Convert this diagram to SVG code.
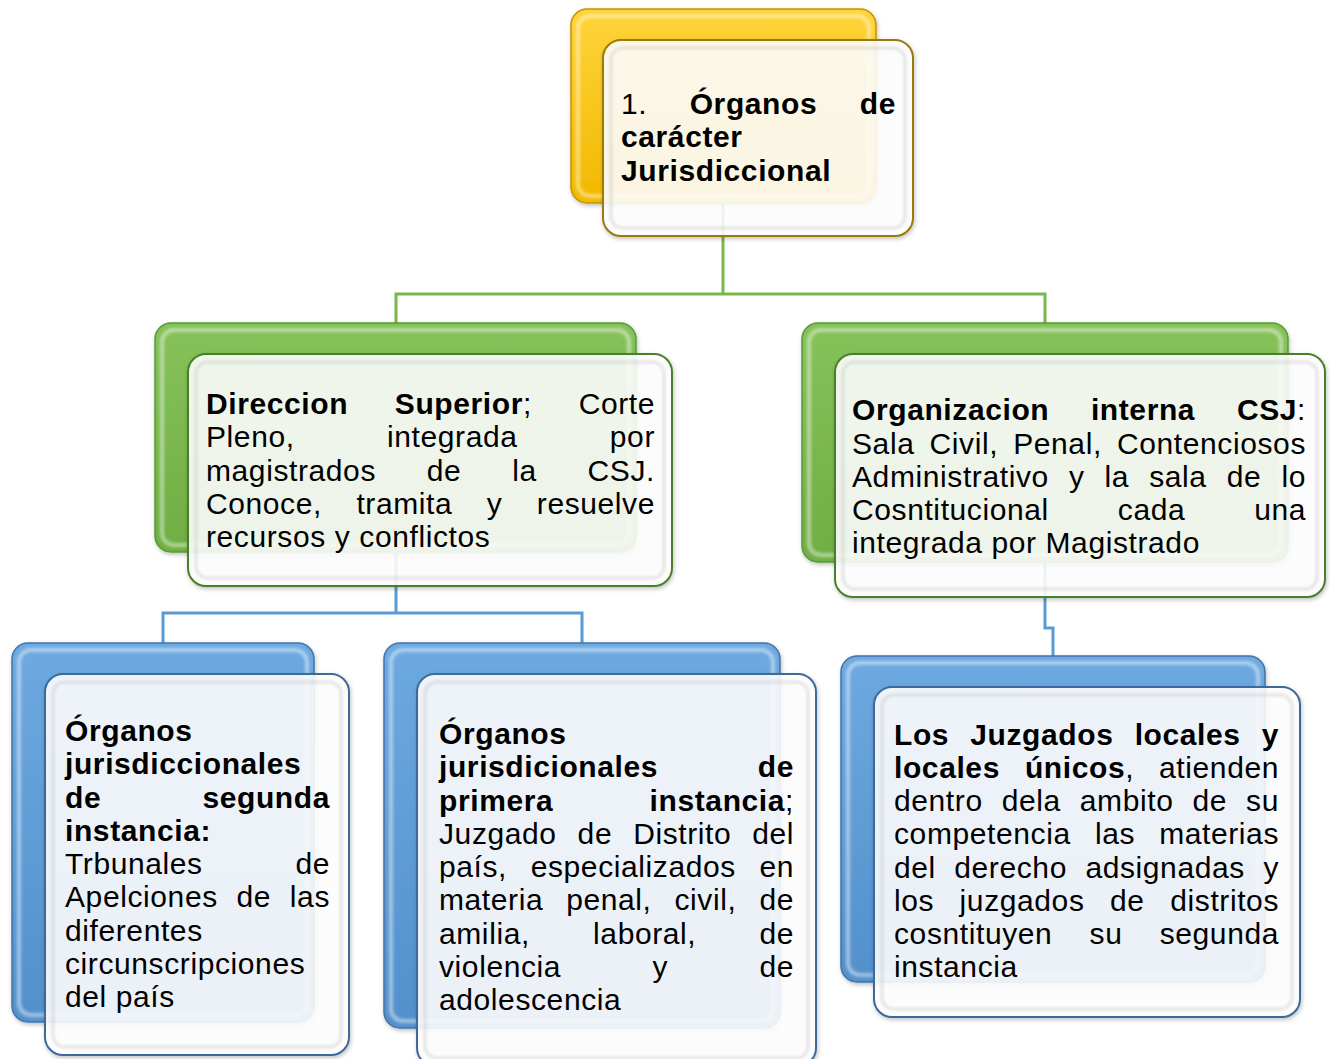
<svg xmlns="http://www.w3.org/2000/svg" width="1330" height="1059" viewBox="0 0 1330 1059">
<defs>
<style>
.t{font-family:"Liberation Sans",Arial,sans-serif;font-size:30px;fill:#000;letter-spacing:0.6px}
.b{font-weight:bold}
.e{text-anchor:end}
.conG{fill:none;stroke:#7ab648;stroke-width:3}
.conB{fill:none;stroke:#5b9bd5;stroke-width:3}
.hl{fill:none;stroke:#fff;stroke-opacity:0.45;stroke-width:4;filter:url(#soft)}
.front{fill:#fff;fill-opacity:0.87;stroke-width:2}
.inner{fill:none;stroke:#c8c8c8;stroke-opacity:0.7;stroke-width:2;filter:url(#soft)}
.backG{fill:url(#gG);stroke:#5a9a35;stroke-width:1.5}
.backB{fill:url(#gB);stroke:#4274aa;stroke-width:1.5}
.backY{fill:url(#gY);stroke:#c49400;stroke-width:1.5}
.fG{stroke:#4a7f2c}
.fB{stroke:#3c6a98}
.fY{stroke:#9a7a08}
</style>
<filter id="soft" x="-5%" y="-5%" width="110%" height="110%"><feGaussianBlur stdDeviation="1.5"/></filter>
<filter id="shd" x="-5%" y="-5%" width="115%" height="115%"><feDropShadow dx="1" dy="2" stdDeviation="2" flood-color="#000" flood-opacity="0.25"/></filter>
<linearGradient id="gG" x1="0" y1="0" x2="0" y2="1"><stop offset="0" stop-color="#86c25a"/><stop offset="1" stop-color="#6fae43"/></linearGradient>
<linearGradient id="gB" x1="0" y1="0" x2="0" y2="1"><stop offset="0" stop-color="#6ea9e0"/><stop offset="1" stop-color="#5290cc"/></linearGradient>
<linearGradient id="gY" x1="0" y1="0" x2="0" y2="1"><stop offset="0" stop-color="#ffd43a"/><stop offset="1" stop-color="#f2b800"/></linearGradient>
</defs>
<rect width="1330" height="1059" fill="#fff"/>

<g id="connectors">
<path class="conG" d="M723 203 V294 M396 323 V294 H1045 V323"/>
<path class="conB" d="M396 552 V613 M163 643 V613 H582 V643"/>
<path class="conB" d="M1045 562 V628 H1053 V656"/>
</g>

<g id="node-top">
<rect class="backY" x="571" y="9" width="305" height="194" rx="16" filter="url(#shd)"/>
<rect class="hl" x="578" y="16" width="291" height="180" rx="12"/>
<rect class="front fY" x="603" y="40" width="310" height="196" rx="18" filter="url(#shd)"/>
<rect class="inner" x="611" y="48" width="294" height="180" rx="12"/>
<text class="t" x="621" y="113.5">1.</text>
<text class="t b" x="689.7" y="113.5">Órganos</text>
<text class="t b e" x="896" y="113.5">de</text>
<text class="t b" x="621" y="147">carácter</text>
<text class="t b" x="621" y="180.5">Jurisdiccional</text>
</g>

<g id="node-direccion">
<rect class="backG" x="155" y="323" width="481" height="229" rx="16" filter="url(#shd)"/>
<rect class="hl" x="162" y="330" width="467" height="215" rx="12"/>
<rect class="front fG" x="188" y="354" width="484" height="232" rx="18" filter="url(#shd)"/>
<rect class="inner" x="196" y="362" width="468" height="216" rx="12"/>
<text class="t b" x="206" y="414">Direccion</text>
<text class="t" x="394.8" y="414"><tspan class="b">Superior</tspan>;</text>
<text class="t e" x="655" y="414">Corte</text>
<text class="t" x="206" y="447">Pleno,</text>
<text class="t" x="387" y="447">integrada</text>
<text class="t e" x="655" y="447">por</text>
<text class="t" x="206" y="480.5">magistrados</text>
<text class="t" x="426.8" y="480.5">de</text>
<text class="t" x="512.2" y="480.5">la</text>
<text class="t e" x="655" y="480.5">CSJ.</text>
<text class="t" x="206" y="513.5">Conoce,</text>
<text class="t" x="356.4" y="513.5">tramita</text>
<text class="t" x="486.8" y="513.5">y</text>
<text class="t e" x="655" y="513.5">resuelve</text>
<text class="t" x="206" y="546.5">recursos y conflictos</text>
</g>

<g id="node-organizacion">
<rect class="backG" x="802" y="323" width="486" height="239" rx="16" filter="url(#shd)"/>
<rect class="hl" x="809" y="330" width="472" height="225" rx="12"/>
<rect class="front fG" x="835" y="354" width="490" height="243" rx="18" filter="url(#shd)"/>
<rect class="inner" x="843" y="362" width="474" height="227" rx="12"/>
<text class="t b" x="852" y="420">Organizacion</text>
<text class="t b" x="1090.9" y="420">interna</text>
<text class="t e" x="1306" y="420"><tspan class="b">CSJ</tspan>:</text>
<text class="t" x="852" y="453.5">Sala</text>
<text class="t" x="929.5" y="453.5">Civil,</text>
<text class="t" x="1013.2" y="453.5">Penal,</text>
<text class="t e" x="1306" y="453.5">Contenciosos</text>
<text class="t" x="852" y="486.5">Administrativo</text>
<text class="t" x="1068.9" y="486.5">y</text>
<text class="t" x="1104.6" y="486.5">la</text>
<text class="t" x="1149.2" y="486.5">sala</text>
<text class="t" x="1226.7" y="486.5">de</text>
<text class="t e" x="1306" y="486.5">lo</text>
<text class="t" x="852" y="520">Cosntitucional</text>
<text class="t" x="1117.8" y="520">cada</text>
<text class="t e" x="1306" y="520">una</text>
<text class="t" x="852" y="553">integrada por Magistrado</text>
</g>

<g id="node-segunda">
<rect class="backB" x="12" y="643" width="302" height="379" rx="16" filter="url(#shd)"/>
<rect class="hl" x="19" y="650" width="288" height="365" rx="12"/>
<rect class="front fB" x="45" y="674" width="304" height="381" rx="18" filter="url(#shd)"/>
<rect class="inner" x="53" y="682" width="288" height="365" rx="12"/>
<text class="t b" x="65" y="741">Órganos</text>
<text class="t b" x="65" y="774">jurisdiccionales</text>
<text class="t b" x="65" y="807.5">de</text>
<text class="t b e" x="330" y="807.5">segunda</text>
<text class="t b" x="65" y="840.5">instancia:</text>
<text class="t" x="65" y="874">Trbunales</text>
<text class="t e" x="330" y="874">de</text>
<text class="t" x="65" y="907">Apelciones</text>
<text class="t" x="236.5" y="907">de</text>
<text class="t e" x="330" y="907">las</text>
<text class="t" x="65" y="940.5">diferentes</text>
<text class="t" x="65" y="973.5">circunscripciones</text>
<text class="t" x="65" y="1007">del país</text>
</g>

<g id="node-primera">
<rect class="backB" x="384" y="643" width="396" height="385" rx="16" filter="url(#shd)"/>
<rect class="hl" x="391" y="650" width="382" height="371" rx="12"/>
<rect class="front fB" x="417" y="674" width="399" height="392" rx="18" filter="url(#shd)"/>
<rect class="inner" x="425" y="682" width="383" height="376" rx="12"/>
<text class="t b" x="439" y="744">Órganos</text>
<text class="t b" x="439" y="777">jurisdicionales</text>
<text class="t b e" x="794" y="777">de</text>
<text class="t b" x="439" y="810.5">primera</text>
<text class="t e" x="794" y="810.5"><tspan class="b">instancia</tspan>;</text>
<text class="t" x="439" y="843.5">Juzgado</text>
<text class="t" x="577.6" y="843.5">de</text>
<text class="t" x="633.2" y="843.5">Distrito</text>
<text class="t e" x="794" y="843.5">del</text>
<text class="t" x="439" y="877">país,</text>
<text class="t" x="530.7" y="877">especializados</text>
<text class="t e" x="794" y="877">en</text>
<text class="t" x="439" y="910">materia</text>
<text class="t" x="566.2" y="910">penal,</text>
<text class="t" x="674.5" y="910">civil,</text>
<text class="t e" x="794" y="910">de</text>
<text class="t" x="439" y="943.5">amilia,</text>
<text class="t" x="593.1" y="943.5">laboral,</text>
<text class="t e" x="794" y="943.5">de</text>
<text class="t" x="439" y="976.5">violencia</text>
<text class="t" x="652.5" y="976.5">y</text>
<text class="t e" x="794" y="976.5">de</text>
<text class="t" x="439" y="1010">adolescencia</text>
</g>

<g id="node-locales">
<rect class="backB" x="841" y="656" width="424" height="326" rx="16" filter="url(#shd)"/>
<rect class="hl" x="848" y="663" width="410" height="312" rx="12"/>
<rect class="front fB" x="874" y="687" width="426" height="330" rx="18" filter="url(#shd)"/>
<rect class="inner" x="882" y="695" width="410" height="314" rx="12"/>
<text class="t b" x="894" y="745">Los</text>
<text class="t b" x="970.3" y="745">Juzgados</text>
<text class="t b" x="1134.7" y="745">locales</text>
<text class="t b e" x="1279" y="745">y</text>
<text class="t b" x="894" y="778">locales</text>
<text class="t" x="1024.9" y="778"><tspan class="b">únicos</tspan>,</text>
<text class="t e" x="1279" y="778">atienden</text>
<text class="t" x="894" y="811">dentro</text>
<text class="t" x="1001.7" y="811">dela</text>
<text class="t" x="1079.8" y="811">ambito</text>
<text class="t" x="1192.4" y="811">de</text>
<text class="t e" x="1279" y="811">su</text>
<text class="t" x="894" y="844">competencia</text>
<text class="t" x="1094.9" y="844">las</text>
<text class="t e" x="1279" y="844">materias</text>
<text class="t" x="894" y="877.5">del</text>
<text class="t" x="954.3" y="877.5">derecho</text>
<text class="t" x="1085.4" y="877.5">adsignadas</text>
<text class="t e" x="1279" y="877.5">y</text>
<text class="t" x="894" y="910.5">los</text>
<text class="t" x="959.6" y="910.5">juzgados</text>
<text class="t" x="1110" y="910.5">de</text>
<text class="t e" x="1279" y="910.5">distritos</text>
<text class="t" x="894" y="943.5">cosntituyen</text>
<text class="t" x="1089.6" y="943.5">su</text>
<text class="t e" x="1279" y="943.5">segunda</text>
<text class="t" x="894" y="977">instancia</text>
</g>
</svg>
